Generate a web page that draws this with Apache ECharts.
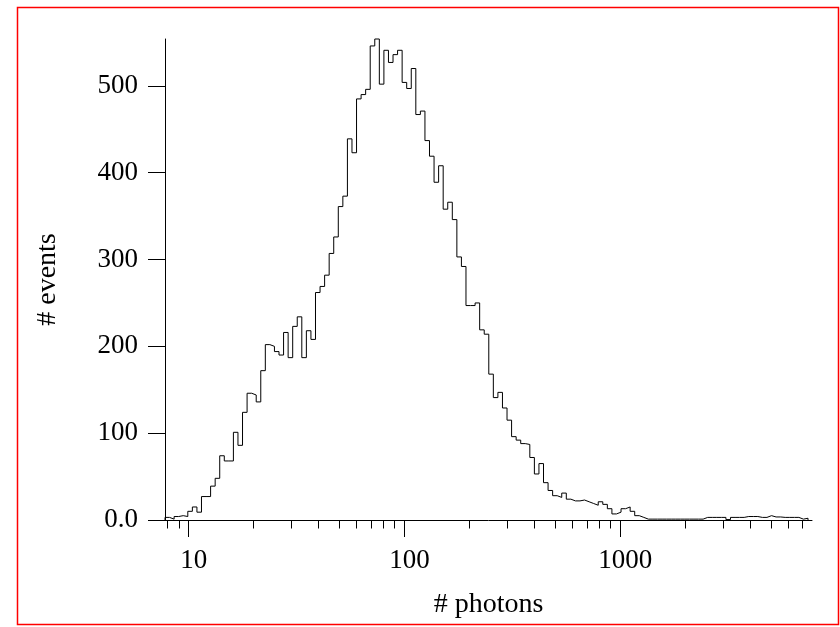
<!DOCTYPE html>
<html>
<head>
<meta charset="utf-8">
<script src="https://cdn.jsdelivr.net/npm/echarts@6/dist/echarts.min.js"></script>
<style>
    html, body { margin: 0; padding: 0; background: #fff; }
    #chart { width: 840px; height: 627px; }
</style>
</head>
<body>
<div id="chart"></div>
<script>
// 直方图：每个事件的光子数 (对数等宽分箱)
const binStart = 7.77;          // 第一个箱的左边界
const binsPerDecade = 47.33;    // 每个十倍程的箱数

// 各箱计数
const counts = [
    3, 1, 4, 5, 4, 10, 15, 9, 27, 27,
    39, 48, 74, 68, 68, 101, 86, 124, 146, 144,
    136, 172, 202, 200, 194, 190, 216, 187, 223, 234,
    187, 218, 208, 262, 269, 282, 307, 326, 361, 373,
    439, 423, 485, 490, 496, 546, 554, 502, 541, 527,
    536, 541, 504, 497, 520, 467, 471, 437, 419, 389,
    408, 358, 366, 346, 303, 292, 247, 247, 250, 219,
    214, 168, 141, 147, 129, 115, 96, 92, 88, 87,
    72, 53, 65, 43, 34, 28, 26, 31, 24, 22,
    22, 23, 21, 19, 17, 21, 18, 13, 7, 9,
    13, 15, 10, 5, 3, 1, 1, 1, 1, 1,
    1, 1, 1, 1, 1, 1, 1, 1, 3, 3,
    3, 3, 3, 0.5, 3, 3, 3, 4, 4, 4,
    3, 3, 5, 3.5, 3.5, 3, 3, 3, 3, 1,
    2
];

// 坐标轴
const xRange = [7.77, 7727];
const yRange = [0, 554];
const yTicks = [0, 100, 200, 300, 400, 500];
const xMajorTicks = [10, 100, 1000];
const xMinorTicks = [
    8, 9,
    20, 30, 40, 50, 60, 70, 80, 90,
    200, 300, 400, 500, 600, 700, 800, 900,
    2000, 3000, 4000, 5000, 6000, 7000
];

const FONT = 'Liberation Serif, Times New Roman, serif';

/**
 * 生成阶梯线数据
 */
function buildSteps() {
    let edges = [];
    for (let i = 0; i <= counts.length; i++) {
        edges.push(binStart * Math.pow(10, i / binsPerDecade));
    }
    let pts = [[edges[0], 0]];
    counts.forEach((c, i) => {
        pts.push([edges[i], c]);
    });
    pts.push([edges[counts.length], 0]);
    return pts;
}

const myChart = echarts.init(document.getElementById('chart'), null, { renderer: 'canvas' });

const option = {
    backgroundColor: '#fff',
    animation: false,
    textStyle: { fontFamily: FONT, color: '#000' },
    graphic: [{
        type: 'rect',
        shape: { x: 17.5, y: 7.5, width: 821, height: 617 },
        style: { fill: 'none', stroke: '#ff0000', lineWidth: 1.5 },
        silent: true
    }],
    grid: {
        left: 165,
        right: 28,
        top: 39,
        bottom: 107,
        outerBoundsMode: 'none'
    },
    xAxis: [{
        type: 'log',
        logBase: 10,
        min: xRange[0],
        max: xRange[1],
        name: '# photons',
        nameLocation: 'middle',
        nameGap: 71,
        nameTextStyle: { fontFamily: FONT, fontSize: 28, color: '#000' },
        axisLine: { lineStyle: { color: '#000', width: 1 } },
        axisTick: { customValues: xMajorTicks, length: 17, lineStyle: { color: '#000' } },
        axisLabel: {
            customValues: xMajorTicks,
            formatter: v => String(Math.round(v)),
            fontFamily: FONT,
            fontSize: 27,
            color: '#000',
            margin: 27,
            padding: [0, 0, 0, 10]
        },
        splitLine: { show: false },
        minorTick: { show: false }
    }, {
        type: 'log',
        logBase: 10,
        min: xRange[0],
        max: xRange[1],
        position: 'bottom',
        axisLine: { show: false },
        axisTick: { customValues: xMinorTicks, length: 8.5, lineStyle: { color: '#000' } },
        axisLabel: { show: false },
        splitLine: { show: false }
    }],
    yAxis: {
        type: 'value',
        min: yRange[0],
        max: yRange[1],
        name: '# events',
        nameLocation: 'middle',
        nameGap: 103,
        nameTextStyle: { fontFamily: FONT, fontSize: 28, color: '#000' },
        axisLine: { show: true, lineStyle: { color: '#000', width: 1 } },
        axisTick: { customValues: yTicks, length: 17, lineStyle: { color: '#000' } },
        axisLabel: {
            customValues: yTicks,
            formatter: v => (v === 0 ? '0.0' : String(v)),
            fontFamily: FONT,
            fontSize: 27,
            color: '#000',
            margin: 27
        },
        splitLine: { show: false }
    },
    series: [{
        type: 'line',
        xAxisIndex: 0,
        step: 'end',
        data: buildSteps(),
        showSymbol: false,
        symbol: 'none',
        lineStyle: { color: '#000', width: 1 },
        clip: false
    }]
};

myChart.setOption(option);
</script>
</body>
</html>
